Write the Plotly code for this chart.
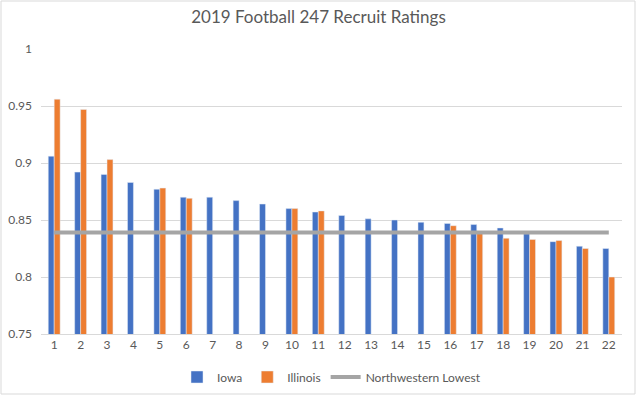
import plotly.graph_objects as go

categories = [str(i) for i in range(1, 23)]
iowa = [0.906, 0.892, 0.890, 0.883, 0.877, 0.870, 0.870, 0.867, 0.864, 0.860, 0.857,
        0.854, 0.851, 0.850, 0.848, 0.847, 0.846, 0.843, 0.838, 0.831, 0.827, 0.825]
illinois = [0.956, 0.947, 0.903, None, 0.878, 0.869, None, None, None, 0.860, 0.858,
            None, None, None, None, 0.845, 0.839, 0.834, 0.833, 0.832, 0.825, 0.800]
nw_lowest = [0.839] * 22

W, H = 637, 396
L, R, T, B = 41, 15, 49, 62
pw, ph = W - L - R, H - T - B

fig = go.Figure()
fig.add_trace(go.Bar(x=categories, y=iowa, name="Iowa", marker_color="#4472C4"))
fig.add_trace(go.Bar(x=categories, y=illinois, name="Illinois", marker_color="#ED7D31"))
fig.add_trace(go.Scatter(x=categories, y=nw_lowest, name="Northwestern Lowest", mode="lines",
                         line=dict(color="#A5A5A5", width=4)))

font_family = "Lato, 'Open Sans', sans-serif"
fig.update_layout(
    width=W, height=H,
    margin=dict(l=L, r=R, t=T, b=B, autoexpand=False),
    paper_bgcolor="white", plot_bgcolor="white",
    font=dict(family=font_family, color="#595959", size=12),
    title=dict(text="2019 Football 247 Recruit Ratings", x=0.5, xanchor="center",
               y=1 - 17 / H, yanchor="middle", font=dict(size=17, color="#595959")),
    barmode="group", bargap=0.55, bargroupgap=0,
    showlegend=True,
    legend=dict(orientation="h", x=0.5, xanchor="center", y=-(377 - (T + ph)) / ph,
                yanchor="middle", font=dict(size=12, color="#595959"), traceorder="normal"),
    xaxis=dict(showgrid=False, showline=True, linecolor="#D9D9D9", ticks="",
               automargin=False, tickfont=dict(size=12, color="#595959")),
    yaxis=dict(range=[0.75, 1.0], dtick=0.05, showgrid=True, gridcolor="#D9D9D9",
               zeroline=False, showline=False, ticks="", ticklabelstandoff=8,
               automargin=False, tickfont=dict(size=12, color="#595959")),
)

# outer chart border
fig.add_shape(type="rect", xref="paper", yref="paper",
              x0=(1 - L) / pw, x1=(W - 2 - L) / pw,
              y0=-(H - 2 - (T + ph)) / ph, y1=(T + ph - 1) / ph,
              line=dict(color="#D9D9D9", width=1), fillcolor="rgba(0,0,0,0)", layer="below")

fig.write_html("out.html", config={"displayModeBar": False})

# remove the default browser page margin so the chart sits at the window origin
with open("out.html", "r", encoding="utf-8") as f:
    html = f.read()
html = html.replace("<body>", '<body style="margin:0;padding:0;overflow:hidden">', 1)
with open("out.html", "w", encoding="utf-8") as f:
    f.write(html)
